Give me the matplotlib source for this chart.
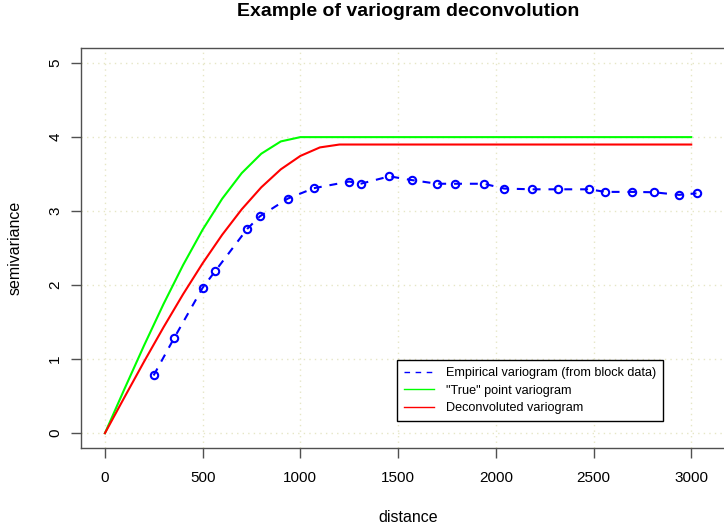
import matplotlib.pyplot as plt
from matplotlib.lines import Line2D

plt.rcParams['font.family'] = ['Liberation Sans', 'DejaVu Sans']

# empirical variogram from block data
emp_dist = [249, 353, 500, 563, 728, 793, 936, 1069, 1250, 1308, 1456, 1569,
            1700, 1791, 1939, 2043, 2185, 2320, 2478, 2560, 2697, 2809, 2937, 3027]
emp_gamma = [0.78, 1.28, 1.965, 2.185, 2.76, 2.93, 3.17, 3.31, 3.40, 3.37, 3.47, 3.42,
             3.37, 3.37, 3.37, 3.305, 3.295, 3.295, 3.295, 3.26, 3.26, 3.255, 3.22, 3.24]

# model curves, evaluated every 100 units of distance
model_dist = list(range(0, 3001, 100))
true_gamma = [0.0, 0.598, 1.184, 1.746, 2.272, 2.75, 3.168, 3.514, 3.776, 3.942, 4.0] + [4.0] * 20
deconv_gamma = [0.0, 0.486, 0.966, 1.432, 1.878, 2.296, 2.681, 3.025, 3.322, 3.565,
                3.746, 3.861, 3.9] + [3.9] * 18

x_ticks = [0, 500, 1000, 1500, 2000, 2500, 3000]
y_ticks = [0, 1, 2, 3, 4, 5]

W, H = 724, 529
fig = plt.figure(figsize=(W / 100, H / 100), dpi=100)
# box runs off the right edge of the picture, like the original
ax = fig.add_axes([80.7 / W, 1 - 448 / H, (735 - 80.7) / W, (448 - 48.3) / H])

ax.set_xlim(-124, 3224)
ax.set_ylim(-0.2, 5.2)
ax.set_xticks(x_ticks)
ax.set_yticks(y_ticks)
ax.set_axisbelow(True)
ax.grid(True, color='#e6e6c6', linestyle=(0, (1, 3)), linewidth=1.0)

ax.plot(model_dist, true_gamma, color='#00ff00', lw=1.5)
ax.plot(model_dist, deconv_gamma, color='#ff0000', lw=1.5)
ax.plot(emp_dist, emp_gamma, color='#0000ff', lw=1.5, linestyle=(0, (3.8, 3.8)),
        marker='o', markersize=5.3, markerfacecolor='none', markeredgewidth=1.5)

for s in ax.spines.values():
    s.set_color('#505050')
    s.set_linewidth(1.0)
ax.tick_params(axis='both', direction='out', length=7.2, width=1.0, color='#505050',
               labelsize=11, labelcolor='black')
ax.tick_params(axis='x', pad=9.5)
ax.tick_params(axis='y', pad=6)
for lab in ax.get_yticklabels():
    lab.set_rotation(90)
    lab.set_va('center')

fig.text(408 / W, 1 - 12 / H, 'Example of variogram deconvolution', ha='center',
         va='center', fontsize=14, fontweight='bold')
fig.text(408 / W, 1 - 517 / H, 'distance', ha='center', va='center', fontsize=11.5)
fig.text(15 / W, 1 - 248 / H, 'semivariance', ha='center', va='center',
         rotation=90, fontsize=11.5)

handles = [Line2D([], [], color='#0000ff', lw=1.0, linestyle=(0, (4, 4))),
           Line2D([], [], color='#00ff00', lw=1.0),
           Line2D([], [], color='#ff0000', lw=1.0)]
labels = ['Empirical variogram (from block data)', '"True" point variogram',
          'Deconvoluted variogram']
leg = fig.legend(handles, labels, loc='upper left',
                 bbox_to_anchor=(397 / W, 1 - 360 / H), fontsize=9.1,
                 frameon=True, fancybox=False, framealpha=1, edgecolor='black',
                 borderaxespad=0, borderpad=0.55, handlelength=2.4,
                 handletextpad=0.9, labelspacing=0.45)
leg.get_frame().set_linewidth(1.0)

fig.savefig('out.png', dpi=100)
